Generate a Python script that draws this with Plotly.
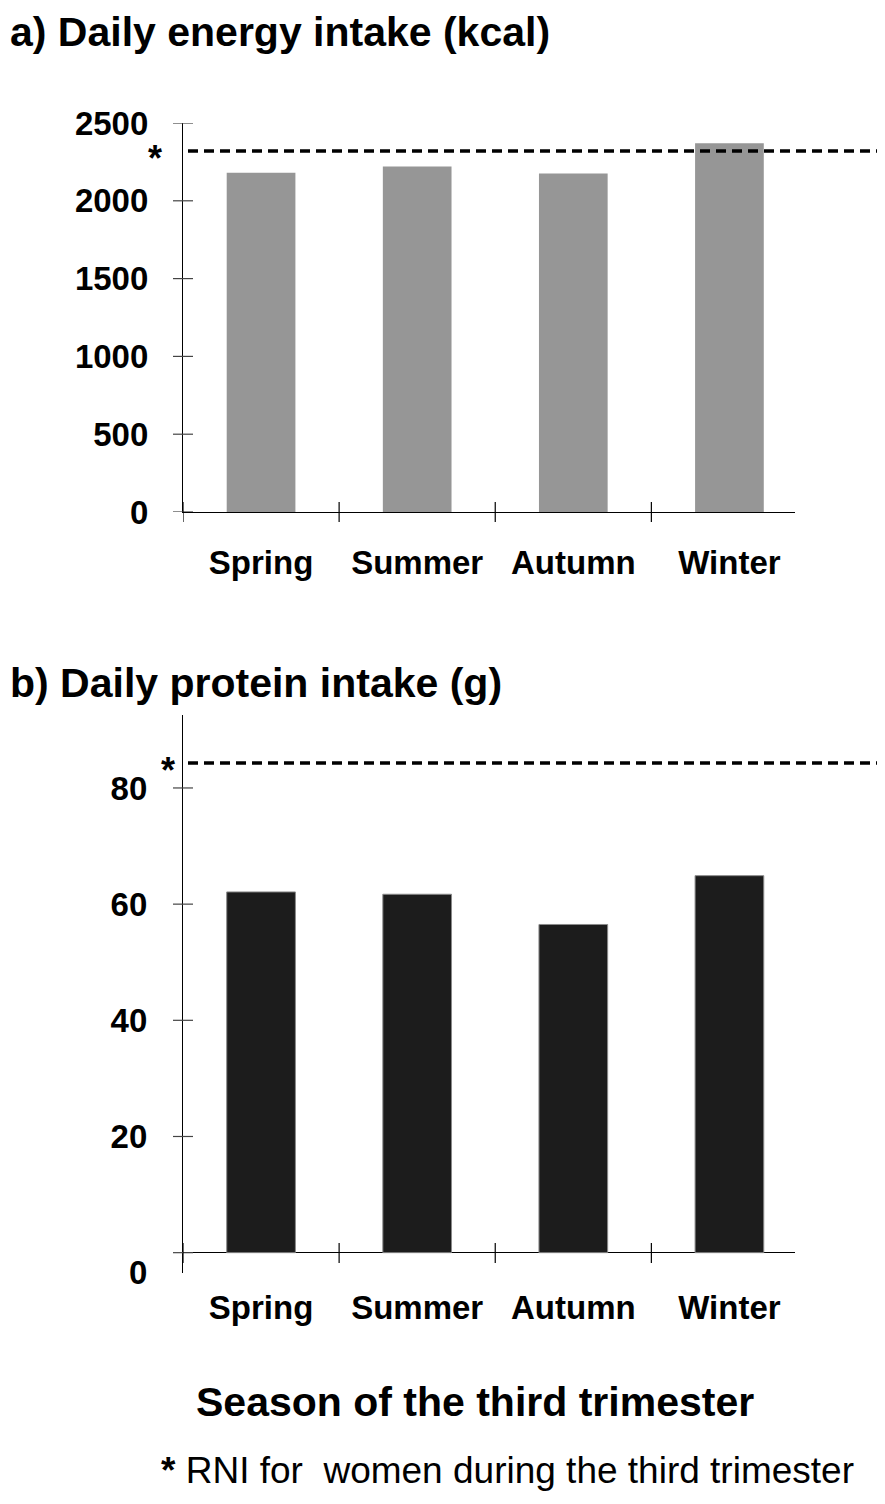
import plotly.graph_objects as go

# data
seasons = ["Spring", "Summer", "Autumn", "Winter"]
energy_kcal = [2180, 2220, 2175, 2370]
protein_g = [62.1, 61.7, 56.5, 64.9]
rni_energy = 2320
rni_protein = 84.3
energy_ticks = [0, 500, 1000, 1500, 2000, 2500]
protein_ticks = [0, 20, 40, 60, 80]

W, H = 885, 1504
OFF = 8  # page body margin, positions below are in target pixels
FONT = "Liberation Sans, Arial, sans-serif"


def px_x(p):
    return (p - OFF) / W


def px_y(p):
    return 1 - (p - OFF) / H


fig = go.Figure()

fig.add_trace(go.Bar(x=seasons, y=energy_kcal, width=0.44,
                     marker=dict(color="#969696", line=dict(width=0)),
                     xaxis="x", yaxis="y", showlegend=False))
fig.add_trace(go.Bar(x=seasons, y=protein_g, width=0.44,
                     marker=dict(color="#1c1c1c", line=dict(color="#8a8a8a", width=1)),
                     xaxis="x2", yaxis="y2", showlegend=False))

tickfont = dict(family=FONT, size=33, color="black", weight="bold")

shapes = []
# crossing tick marks on the y axes
for v in energy_ticks:
    shapes.append(dict(type="line", xref="paper", yref="y", x0=px_x(173), x1=px_x(193),
                       y0=v, y1=v, line=dict(color="#444", width=1.2)))
for v in protein_ticks:
    shapes.append(dict(type="line", xref="paper", yref="y2", x0=px_x(173), x1=px_x(193),
                       y0=v, y1=v, line=dict(color="#444", width=1.2)))
# crossing tick marks at category boundaries
for b in [-0.5, 0.5, 1.5, 2.5]:
    shapes.append(dict(type="line", xref="x", yref="paper", x0=b, x1=b,
                       y0=px_y(522), y1=px_y(502), line=dict(color="black", width=1.2)))
    shapes.append(dict(type="line", xref="x2", yref="paper", x0=b, x1=b,
                       y0=px_y(1263), y1=px_y(1243), line=dict(color="black", width=1.2)))
# RNI dashed reference lines
shapes.append(dict(type="line", xref="paper", yref="y", x0=px_x(188), x1=px_x(885),
                   y0=rni_energy, y1=rni_energy, line=dict(color="black", width=3.3, dash="10px,6px")))
shapes.append(dict(type="line", xref="paper", yref="y2", x0=px_x(188), x1=px_x(885),
                   y0=rni_protein, y1=rni_protein, line=dict(color="black", width=3.3, dash="10px,6px")))

annotations = [
    dict(text="<b>a) Daily energy intake (kcal)</b>", xref="paper", yref="paper",
         x=px_x(8), y=px_y(32), xanchor="left", yanchor="middle", showarrow=False,
         font=dict(family=FONT, size=41, color="black")),
    dict(text="<b>b) Daily protein intake (g)</b>", xref="paper", yref="paper",
         x=px_x(8), y=px_y(683), xanchor="left", yanchor="middle", showarrow=False,
         font=dict(family=FONT, size=41, color="black")),
    dict(text="<b>*</b>", xref="paper", yref="paper", x=px_x(155), y=px_y(158),
         xanchor="center", yanchor="middle", showarrow=False,
         font=dict(family=FONT, size=36, color="black")),
    dict(text="<b>*</b>", xref="paper", yref="paper", x=px_x(168), y=px_y(770),
         xanchor="center", yanchor="middle", showarrow=False,
         font=dict(family=FONT, size=36, color="black")),
    dict(text="<b>Season of the third trimester</b>", xref="paper", yref="paper",
         x=px_x(475), y=px_y(1402), xanchor="center", yanchor="middle", showarrow=False,
         font=dict(family=FONT, size=41, color="black")),
    dict(text="<b>*</b> RNI for\u00a0 women during the third trimester", xref="paper", yref="paper",
         x=px_x(159), y=px_y(1470), xanchor="left", yanchor="middle", showarrow=False,
         font=dict(family=FONT, size=37, color="black")),
]

fig.update_layout(
    width=W, height=H, autosize=False,
    margin=dict(l=0, r=0, t=0, b=0, pad=0),
    paper_bgcolor="white", plot_bgcolor="white",
    font=dict(family=FONT, color="black"),
    xaxis=dict(domain=[px_x(183), px_x(795)], range=[-0.5, 3.42], anchor="y",
               showline=True, linecolor="black", linewidth=1.2, ticks="",
               showgrid=False, tickfont=tickfont, ticklabelstandoff=21, automargin=False),
    yaxis=dict(domain=[px_y(512), px_y(123)], range=[0, 2500], anchor="x",
               tickvals=energy_ticks, showline=True, linecolor="black", linewidth=1.2,
               ticks="", showgrid=False, zeroline=False, tickfont=tickfont,
               ticklabelstandoff=27, automargin=False),
    xaxis2=dict(domain=[px_x(183), px_x(795)], range=[-0.5, 3.42], anchor="y2",
                showline=False, ticks="", showgrid=False, tickfont=tickfont,
                ticklabelstandoff=12, automargin=False),
    yaxis2=dict(domain=[px_y(1273), px_y(715)], range=[-3.5, 92.56], anchor="x2",
                tickvals=[-3.4, 20, 40, 60, 80], ticktext=["0", "20", "40", "60", "80"],
                showline=True, linecolor="black", linewidth=1.2, ticks="", showgrid=False,
                zeroline=True, zerolinecolor="black", zerolinewidth=1.2,
                tickfont=tickfont, ticklabelstandoff=28, automargin=False),
    shapes=shapes,
    annotations=annotations,
    bargap=0.56,
)

fig.write_html("out.html")
